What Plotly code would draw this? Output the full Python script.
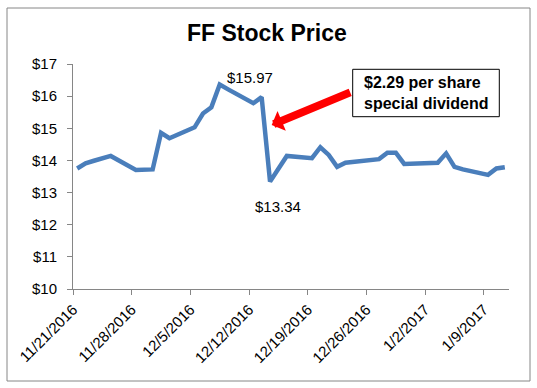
import pandas as pd
import plotly.graph_objects as go

# ---- data ----
dates = [
    "2016-11-21", "2016-11-22", "2016-11-23", "2016-11-25",
    "2016-11-28", "2016-11-29", "2016-11-30", "2016-12-01", "2016-12-02",
    "2016-12-05", "2016-12-06", "2016-12-07", "2016-12-08", "2016-12-09",
    "2016-12-12", "2016-12-13", "2016-12-14", "2016-12-15", "2016-12-16",
    "2016-12-19", "2016-12-20", "2016-12-21", "2016-12-22", "2016-12-23",
    "2016-12-27", "2016-12-28", "2016-12-29", "2016-12-30",
    "2017-01-03", "2017-01-04", "2017-01-05", "2017-01-06",
    "2017-01-09", "2017-01-10", "2017-01-11",
]
prices = [
    13.75, 13.91, 13.99, 14.14,
    13.70, 13.71, 13.72, 14.86, 14.69,
    15.03, 15.46, 15.65, 16.36, 16.21,
    15.78, 15.97, 13.34, 13.74, 14.14,
    14.07, 14.41, 14.17, 13.80, 13.93,
    14.04, 14.24, 14.24, 13.89,
    13.93, 14.22, 13.80, 13.72,
    13.55, 13.75, 13.79,
]
tick_dates = ["2016-11-21", "2016-11-28", "2016-12-05", "2016-12-12",
              "2016-12-19", "2016-12-26", "2017-01-02", "2017-01-09"]
tick_labels = ["11/21/2016", "11/28/2016", "12/5/2016", "12/12/2016",
               "12/19/2016", "12/26/2016", "1/2/2017", "1/9/2017"]
y_ticks = [10, 11, 12, 13, 14, 15, 16, 17]
y_labels = [f"${v}" for v in y_ticks]

title_text = "FF Stock Price"
peak_label = "$15.97"
low_label = "$13.34"
note_text = "$2.29 per share<br>special dividend"

# points sit in the middle of each day (Excel date axis, between tick marks)
x_vals = pd.to_datetime(dates) + pd.Timedelta(hours=12)

FONT = "Liberation Sans, Arial, sans-serif"
W, H = 537, 388
ML, MR, MT, MB = 73, 28, 64, 99
PW, PH = W - ML - MR, H - MT - MB


def xp(px):
    return (px - ML) / PW


def yp(py):
    return (H - MB - py) / PH


fig = go.Figure()
fig.add_trace(go.Scatter(
    x=x_vals, y=prices, mode="lines",
    line=dict(color="#4A7EBB", width=4.5),
    hoverinfo="skip", showlegend=False,
))

axis_col = "#868686"
fig.update_layout(
    width=W, height=H,
    margin=dict(l=ML, r=MR, t=MT, b=MB, pad=0),
    paper_bgcolor="white", plot_bgcolor="white",
    font=dict(family=FONT, size=15, color="black"),
    showlegend=False,
    xaxis=dict(
        type="date",
        range=["2016-11-21", "2017-01-12"],
        tickmode="array", tickvals=tick_dates, ticktext=tick_labels,
        tickangle=-45,
        showgrid=False, zeroline=False,
        showline=True, linecolor=axis_col, linewidth=1,
        ticks="outside", ticklen=5, tickcolor=axis_col,
        tickfont=dict(size=15, color="black"),
        automargin=False,
    ),
    yaxis=dict(
        range=[10, 17],
        tickmode="array", tickvals=y_ticks, ticktext=y_labels,
        showgrid=False, zeroline=False,
        showline=True, linecolor=axis_col, linewidth=1,
        ticks="outside", ticklen=5, tickcolor=axis_col,
        ticklabelstandoff=7,
        tickfont=dict(size=15, color="black"),
        automargin=False,
    ),
)

# chart border
fig.add_shape(type="rect", xref="paper", yref="paper",
              x0=xp(7), x1=xp(530), y0=yp(381), y1=yp(8),
              line=dict(color=axis_col, width=1), fillcolor="rgba(0,0,0,0)",
              layer="below")

# callout box
fig.add_shape(type="rect", xref="paper", yref="paper",
              x0=xp(352.7), x1=xp(499.3), y0=yp(116.7), y1=yp(69.3),
              line=dict(color="black", width=1), fillcolor="white")

# title
fig.add_annotation(text=f"<b>{title_text}</b>", xref="paper", yref="paper",
                   x=xp(267), y=yp(33), xanchor="center", yanchor="middle",
                   showarrow=False, font=dict(family=FONT, size=23, color="black"))

# data labels
i_peak = prices.index(15.97)
i_low = prices.index(13.34)
fig.add_annotation(text=peak_label, x=x_vals[i_peak], y=prices[i_peak],
                   xref="x", yref="y", showarrow=False,
                   xshift=-12, yshift=20, font=dict(size=15, color="black"))
fig.add_annotation(text=low_label, x=x_vals[i_low], y=prices[i_low],
                   xref="x", yref="y", showarrow=False,
                   xshift=8, yshift=-25, font=dict(size=15, color="black"))

# callout text
fig.add_annotation(text=f"<b>{note_text}</b>", xref="paper", yref="paper",
                   x=xp(361.5), y=yp(93), xanchor="left", yanchor="middle",
                   align="left", showarrow=False,
                   font=dict(family=FONT, size=16, color="black"))

# red arrow
fig.add_annotation(text="", xref="paper", yref="paper",
                   x=xp(271.7), y=yp(125), ax=351.7 - 271.7, ay=91.7 - 125,
                   showarrow=True, arrowhead=1, arrowsize=0.45, arrowwidth=8,
                   arrowcolor="#FF0000")

fig.write_html("out.html",
               config={"displayModeBar": False},
               post_script="document.body.style.margin='0';")
